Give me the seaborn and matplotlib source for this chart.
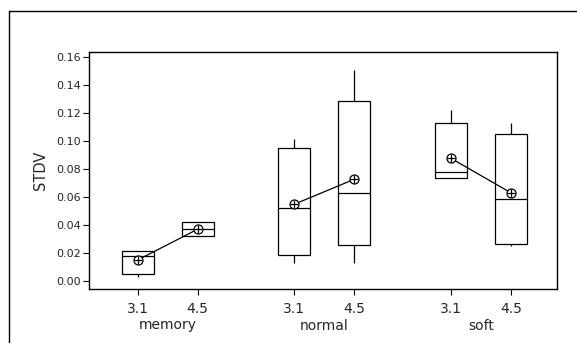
import matplotlib
matplotlib.use("Agg")
import matplotlib.pyplot as plt
import seaborn as sns
import pandas as pd
import numpy as np
from matplotlib.lines import Line2D

# ---- data ----
groups = ["memory", "normal", "soft"]
levels = ["3.1", "4.5"]
# order: memory 3.1, memory 4.5, normal 3.1, normal 4.5, soft 3.1, soft 4.5
whisker_low = [0.0027, 0.0319, 0.0128, 0.0128, 0.0735, 0.0247]
q1          = [0.0044, 0.0319, 0.0181, 0.0255, 0.0735, 0.0264]
median      = [0.0176, 0.0373, 0.0522, 0.0626, 0.0776, 0.0582]
q3          = [0.0214, 0.0422, 0.0948, 0.1290, 0.1128, 0.1053]
whisker_high= [0.0214, 0.0422, 0.1013, 0.1510, 0.1223, 0.1128]
means       = [0.0147, 0.0368, 0.0547, 0.0726, 0.0877, 0.0630]
y_ticks = [0.00, 0.02, 0.04, 0.06, 0.08, 0.10, 0.12, 0.14, 0.16]

# ---- layout ----
group_step = 2.61
rows = []
mrows = []
i = 0
for g, grp in enumerate(groups):
    for l, lev in enumerate(levels):
        pos = g * group_step + l
        for v in (whisker_low[i], q1[i], median[i], q3[i], whisker_high[i]):
            rows.append({"pos": pos, "value": v, "group": grp})
        mrows.append({"pos": pos, "mean": means[i], "group": grp})
        i += 1
df = pd.DataFrame(rows)
mdf = pd.DataFrame(mrows)

sns.set_style("white")
plt.rcParams["font.family"] = ["DejaVu Sans"]

fig = plt.figure(figsize=(5.77, 3.43), dpi=100)
ax = fig.add_axes([89/577, 1-288.5/343, (557-89)/577, (288.5-51.7)/343])

lw = 0.9
sns.boxplot(data=df, x="pos", y="value", native_scale=True, whis=(0, 100),
            width=0.53, color="white", linecolor="black", linewidth=lw,
            showcaps=False, fliersize=0, ax=ax)

sns.lineplot(data=mdf, x="pos", y="mean", hue="group",
             palette=["black"]*3, estimator=None, legend=False,
             linewidth=lw, ax=ax, zorder=5)
sns.scatterplot(data=mdf, x="pos", y="mean", marker="o", s=42,
                facecolor="white", edgecolor="black", linewidth=0.9,
                ax=ax, zorder=6)
sns.scatterplot(data=mdf, x="pos", y="mean", marker="+", s=36,
                color="black", linewidth=0.9, ax=ax, zorder=7)

ax.set_xlim(-0.81, 6.99)
ax.set_ylim(-0.0057, 0.1641)
ax.set_yticks(y_ticks)
ax.set_yticklabels([f"{t:.2f}" for t in y_ticks], fontsize=8)
xt = [g * group_step + l for g in range(len(groups)) for l in range(len(levels))]
ax.set_xticks(xt)
ax.set_xticklabels(levels * len(groups), fontsize=10)
ax.tick_params(axis="both", direction="out", length=4, width=0.8,
               color="black", left=True, bottom=True, pad=2)
ax.tick_params(axis="x", pad=6)
ax.set_xlabel("")
ax.set_ylabel("STDV", fontsize=10.5, labelpad=6)
for s in ax.spines.values():
    s.set_visible(True)
    s.set_color("black")
    s.set_linewidth(1.0)

for g, grp in enumerate(groups):
    ax.annotate(grp, xy=(g * group_step + 0.5, 0), xycoords=("data", "axes fraction"),
                xytext=(0, -37), textcoords="offset pixels",
                ha="center", va="center", fontsize=10)

# outer frame lines
fig.add_artist(Line2D([9/577, 9/577], [0, 1-11/343], color="black", lw=1.0,
                      transform=fig.transFigure))
fig.add_artist(Line2D([9/577, 1], [1-11/343, 1-11/343], color="black", lw=1.0,
                      transform=fig.transFigure))

fig.savefig("out.png", dpi=100)
